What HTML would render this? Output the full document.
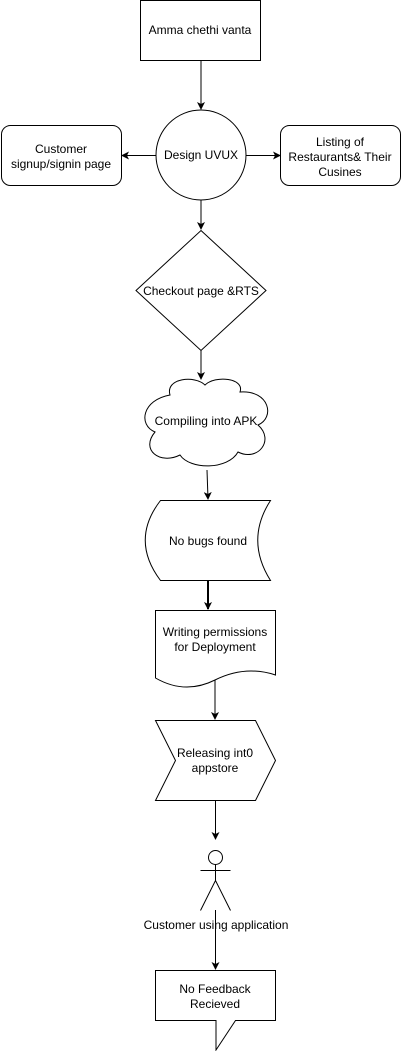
<!DOCTYPE html>
<html><head><style>html,body{margin:0;padding:0;background:#fff}svg{display:block}text{font-family:"Liberation Sans",sans-serif;font-size:12px;fill:#000;text-anchor:middle}</style></head>
<body>
<svg width="401" height="1051" viewBox="0 0 401 1051">
<defs><marker id="a" markerWidth="8" markerHeight="8" refX="7" refY="4" orient="auto" markerUnits="userSpaceOnUse"><path d="M0,0 L8,4 L0,8 L2,4 Z" fill="#000"/></marker></defs>
<g fill="#fff" stroke="#000" stroke-width="1">
<rect x="140.5" y="0.5" width="120" height="60"/>
<circle cx="201" cy="155" r="45"/>
<rect x="1.5" y="125.5" width="120" height="60" rx="9"/>
<rect x="280.5" y="125.5" width="120" height="60" rx="9"/>
<path d="M201,230.5 L266,290.5 L201,350.5 L136,290.5 Z"/>
<path d="M170,395 C165,378 195,375 205,385 C215,375 245,378 240,392 C270,390 275,418 258,425 C275,440 258,462 238,452 C228,470 190,470 180,455 C160,465 140,450 155,432 C138,425 142,400 170,395 Z"/>
<path d="M160.5,500.5 L270.5,500.5 Q245,540 270.5,580.5 L160.5,580.5 Q130,540 160.5,500.5 Z"/>
<path d="M155.5,610.5 L275.5,610.5 L275.5,675 Q245,665 215,680 Q185,695 155.5,678 Z"/>
<path d="M155.5,720.5 L255.5,720.5 L275.5,760.5 L255.5,800.5 L155.5,800.5 L175.5,760.5 Z"/>
<circle cx="215.5" cy="857.5" r="7"/>
<path d="M155.5,970.5 L275.5,970.5 L275.5,1020.5 L235.5,1020.5 L216,1050 L216,1020.5 L155.5,1020.5 Z"/>
</g>
<g stroke="#000" stroke-width="1" fill="none">
<path d="M215.5,864.5 V880.5 M200.5,870.5 H230.5 M215.5,880.5 L200.5,910.5 M215.5,880.5 L230.5,910.5"/>
<path d="M201,60.5 V109" marker-end="url(#a)"/>
<path d="M156,155.5 H122" marker-end="url(#a)"/>
<path d="M246,155.5 H280" marker-end="url(#a)"/>
<path d="M201,200 V229" marker-end="url(#a)"/>
<path d="M201,350.5 V379" marker-end="url(#a)"/>
<path d="M207,470 L208,499" marker-end="url(#a)"/>
<path d="M208,580.5 V609" stroke-width="2" marker-end="url(#a)"/>
<path d="M215,680 V719" marker-end="url(#a)"/>
<path d="M215.5,800.5 V839" marker-end="url(#a)"/>
<path d="M215.5,910 V969" marker-end="url(#a)"/>
</g>
<text x="200" y="34">Amma chethi vanta</text>
<text x="201" y="159">Design UVUX</text>
<text x="61" y="153">Customer</text><text x="61" y="168">signup/signin page</text>
<text x="340" y="146">Listing of</text><text x="340" y="161">Restaurants&amp; Their</text><text x="340" y="176">Cusines</text>
<text x="201" y="295">Checkout page &amp;RTS</text>
<text x="206" y="425">Compiling into APK</text>
<text x="208" y="545">No bugs found</text>
<text x="215" y="636">Writing permissions</text><text x="215" y="651">for Deployment</text>
<text x="215" y="757">Releasing int0</text><text x="215" y="772">appstore</text>
<text x="216" y="929">Customer using application</text>
<text x="215" y="993">No Feedback</text><text x="215" y="1008">Recieved</text>
</svg>
</body></html>
